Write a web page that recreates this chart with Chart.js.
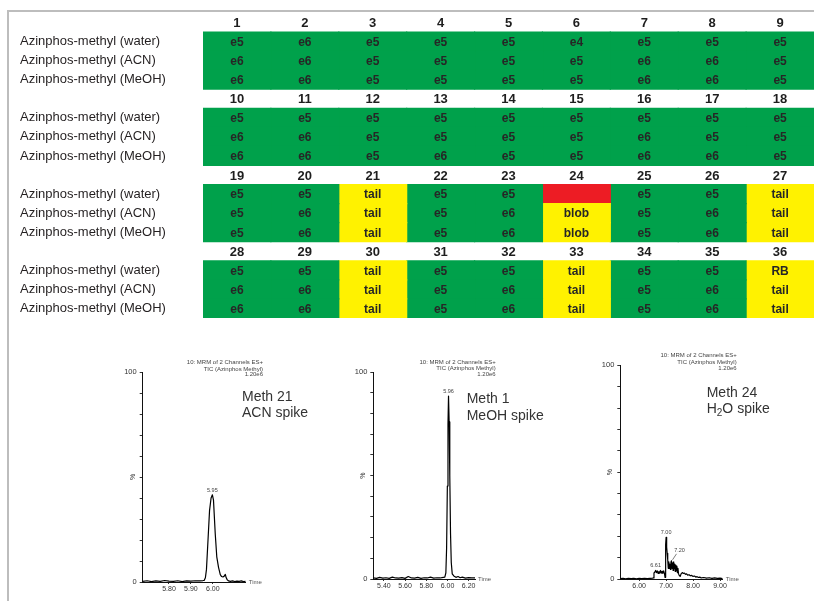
<!DOCTYPE html>
<html>
<head>
<meta charset="utf-8">
<script src="https://cdn.jsdelivr.net/npm/chart.js@4/dist/chart.umd.min.js"></script>
<style>
html,body{margin:0;padding:0;background:#fff;}
body{width:814px;height:601px;position:relative;overflow:hidden;font-family:'Liberation Sans',Arial,sans-serif;}
#frame{position:absolute;left:7px;top:10px;width:830px;height:620px;border-top:2px solid #bdbdbd;border-left:2px solid #bdbdbd;}
canvas{position:absolute;}
</style>
</head>
<body>
<div id="frame"></div>
<canvas id="grid" width="814" height="330" style="left:0px;top:0px"></canvas>
<canvas id="c1" width="235" height="261" style="left:95px;top:340px"></canvas>
<canvas id="c2" width="235" height="261" style="left:335px;top:340px"></canvas>
<canvas id="c3" width="239" height="261" style="left:575px;top:340px"></canvas>
<script>
// ---------------- DATA ----------------
const sampleIds = ['1','2','3','4','5','6','7','8','9',
  '10','11','12','13','14','15','16','17','18',
  '19','20','21','22','23','24','25','26','27',
  '28','29','30','31','32','33','34','35','36'];
const solventRows = ['Azinphos-methyl (water)','Azinphos-methyl (ACN)','Azinphos-methyl (MeOH)'];
const waterResults = ['e5','e6','e5','e5','e5','e4','e5','e5','e5',
  'e5','e5','e5','e5','e5','e5','e5','e5','e5',
  'e5','e5','tail','e5','e5','','e5','e5','tail',
  'e5','e5','tail','e5','e5','tail','e5','e5','RB'];
const acnResults = ['e6','e6','e5','e5','e5','e5','e6','e6','e5',
  'e6','e6','e5','e5','e5','e5','e6','e5','e5',
  'e5','e6','tail','e5','e6','blob','e5','e6','tail',
  'e6','e6','tail','e5','e6','tail','e5','e6','tail'];
const meohResults = ['e6','e6','e5','e5','e5','e5','e6','e6','e5',
  'e6','e6','e5','e6','e5','e5','e6','e6','e5',
  'e5','e6','tail','e5','e6','blob','e5','e6','tail',
  'e6','e6','tail','e5','e6','tail','e5','e6','tail'];

const headerLines = ['10: MRM of 2 Channels ES+','TIC (Azinphos Methyl)','1.20e6'];
const yTickValues = [0,10,20,30,40,50,60,70,80,90,100];
const yLabelValues = [0,100];

// Meth 21, ACN spike
const chrom1Notes = ['Meth 21','ACN spike'];
const chrom1XTicks = [5.80,5.90,6.00];
const chrom1Times = [5.68,5.70,5.72,5.74,5.76,5.78,5.80,5.82,5.84,5.86,5.88,5.90,5.92,5.94,
  5.955,5.961,5.966,5.971,5.978,5.985,5.992,5.998,6.003,6.011,6.018,6.026,6.034,6.040,6.046,
  6.052,6.057,6.061,6.066,6.072,6.080,6.090,6.100,6.110,6.120,6.130,6.140,6.150];
const chrom1Values = [0.3,0.6,0.2,0.5,0.3,0.7,0.4,0.3,0.6,0.2,0.5,0.4,0.6,0.5,
  0.7,0.8,2,6,20,34,40,41.5,39,23,12,7,3.5,2.6,2.4,
  2.8,3.6,2.0,1.0,0.5,0.3,0.5,0.2,0.4,0.3,0.5,0.2,0.3];
const chrom1Peaks = [{t:5.998, v:41.5, label:'5.95'}];

// Meth 1, MeOH spike
const chrom2Notes = ['Meth 1','MeOH spike'];
const chrom2XTicks = [5.40,5.60,5.80,6.00,6.20];
const chrom2Times = [5.30,5.33,5.36,5.39,5.42,5.45,5.48,5.51,5.54,5.57,
  5.60,5.63,5.66,5.69,5.72,5.75,5.78,5.81,5.84,5.87,
  5.90,5.93,5.96,5.975,5.985,5.992,5.999,6.005,6.010,6.016,
  6.022,6.029,6.036,6.045,6.06,6.08,6.10,6.12,6.14,6.17,6.20,6.23,6.26];
const chrom2Values = [0.5,0.3,0.8,0.4,0.6,0.3,0.9,0.5,0.4,0.7,
  0.3,1.2,0.5,0.4,0.8,0.3,0.6,0.5,0.9,0.4,
  0.6,0.5,0.8,0.9,3,15,45,75,88.5,76,
  50,22,8,2.5,1.5,0.8,1.2,0.6,0.9,0.4,0.7,0.5,0.5];
const chrom2Peaks = [{t:6.010, v:88.5, label:'5.96'}];

// Meth 24, H2O spike
const chrom3Notes = ['Meth 24','H\u2082O spike'];
const chrom3XTicks = [6.00,7.00,8.00,9.00];
const chrom3Times = [5.30,5.40,5.50,5.60,5.70,5.80,5.90,6.00,6.10,6.20,
  6.30,6.40,6.50,6.53,6.55,6.58,6.61,6.64,6.67,6.70,
  6.73,6.76,6.79,6.82,6.85,6.88,6.91,6.94,6.96,6.975,
  6.99,7.00,7.02,7.04,7.06,7.08,7.10,7.12,7.14,7.16,
  7.18,7.20,7.22,7.24,7.26,7.28,7.30,7.32,7.34,7.36,
  7.38,7.40,7.42,7.44,7.46,7.48,7.52,7.56,7.60,7.64,
  7.68,7.72,7.76,7.80,7.85,7.90,7.95,8.00,8.05,8.10,
  8.15,8.20,8.25,8.30,8.40,8.50,8.60,8.70,8.80,8.90,
  9.00,9.10];
const chrom3Values = [0.2,0.3,0.1,0.3,0.2,0.3,0.1,0.3,0.2,0.3,
  0.2,0.3,0.4,0.5,2.8,3.2,4.0,3.0,3.8,2.6,
  3.5,2.8,4.0,2.7,3.6,2.6,3.8,2.5,0.8,8,
  16,19.5,15,12,9,5,8,5,7,4.5,
  8,8.5,5,7.5,4,8,5,7,3.5,6.5,
  4,6,3,5,2.5,1.8,1.2,2.5,3.0,2.6,
  2.8,2.2,2.4,1.8,2.0,1.5,1.7,1.2,1.4,0.9,
  1.1,0.7,0.9,0.5,0.7,0.4,0.6,0.3,0.5,0.3,
  0.4,0.2];
const chrom3Peaks = [{t:6.61, v:4.0, label:'6.61'},{t:7.00, v:19.5, label:'7.00'},{t:7.20, v:8.5, label:'7.20'}];

// ---------------- STYLE ----------------
const FONT = "'Liberation Sans', Arial, Helvetica, sans-serif";
Chart.defaults.font.family = FONT;
const GREEN = '#00a14b', YELLOW = '#fff200', RED = '#ed1c24';
const peakLabelPointers = {'7.20': [8, -9]};

// ---------------- TABLE ----------------
const COLS = 9, BLOCKS = 4;
const resultsBySolvent = [waterResults, acnResults, meohResults];
const rowLabels = [];
for (let b = 0; b < BLOCKS; b++) { rowLabels.push(''); solventRows.forEach(s => rowLabels.push(s)); }
function cellResult(r, c) {
  const b = Math.floor(r / 4), k = r % 4;
  if (k === 0) return null;
  return resultsBySolvent[k - 1][b * COLS + c];
}
function cellColor(res) {
  if (res === '') return RED;
  if (/^e\d/.test(res)) return GREEN;
  return YELLOW;
}
const tableDatasets = [];
for (let c = 0; c < COLS; c++) {
  const data = [], colors = [];
  for (let r = 0; r < rowLabels.length; r++) {
    const res = cellResult(r, c);
    data.push(res === null ? null : 1);
    colors.push(res === null ? 'rgba(0,0,0,0)' : cellColor(res));
  }
  tableDatasets.push({data, backgroundColor: colors, borderWidth: 0, barPercentage: 1, categoryPercentage: 1, inflateAmount: 0.6});
}
const tableText = {
  id: 'tableText',
  afterDatasetsDraw(chart) {
    const ctx = chart.ctx, xs = chart.scales.x, ys = chart.scales.y;
    ctx.save();
    ctx.textAlign = 'center'; ctx.textBaseline = 'middle';
    ctx.fillStyle = '#1e1e1e';
    ctx.font = `bold 13px ${FONT}`;
    for (let b = 0; b < BLOCKS; b++) {
      const y = ys.getPixelForValue(b * 4);
      for (let c = 0; c < COLS; c++) ctx.fillText(sampleIds[b * COLS + c], xs.getPixelForValue(c + 0.5), y + 1);
    }
    ctx.fillStyle = '#262626';
    ctx.font = `bold 12px ${FONT}`;
    chart.data.datasets.forEach((ds, c) => {
      const meta = chart.getDatasetMeta(c);
      meta.data.forEach((el, r) => {
        const res = cellResult(r, c);
        if (!res) return;
        const p = el.getProps(['x', 'y', 'base'], true);
        ctx.fillText(res, (p.x + p.base) / 2, p.y + 1);
      });
    });
    ctx.restore();
  }
};
new Chart(document.getElementById('grid'), {
  type: 'bar',
  data: {labels: rowLabels, datasets: tableDatasets},
  options: {
    indexAxis: 'y', responsive: false, animation: false, devicePixelRatio: 1,
    layout: {padding: {left: 20, top: 13, right: 0, bottom: 12}},
    plugins: {legend: {display: false}, tooltip: {enabled: false}},
    scales: {
      x: {stacked: true, min: 0, max: COLS, display: false},
      y: {stacked: true,
          ticks: {font: {size: 13, family: FONT}, color: '#231f20', crossAlign: 'far', padding: 0, autoSkip: false},
          grid: {display: false}, border: {display: false},
          afterFit(s) { s.width = 183; }}
    }
  },
  plugins: [tableText]
});

// ---------------- CHROMATOGRAMS ----------------
function drawNote(ctx, text, x, y) {
  const i = text.indexOf('\u2082');
  if (i < 0) { ctx.fillText(text, x, y); return; }
  const a = text.slice(0, i), b = text.slice(i + 1);
  ctx.fillText(a, x, y);
  let w = ctx.measureText(a).width;
  const f = ctx.font;
  ctx.font = `10px ${FONT}`;
  ctx.fillText('2', x + w, y + 4);
  w += ctx.measureText('2').width;
  ctx.font = f;
  ctx.fillText(b, x + w, y);
}
function buildChrom(id, spec) {
  const cv = document.getElementById(id);
  const cl = parseFloat(cv.style.left), ct = parseFloat(cv.style.top);
  const W = cv.width, H = cv.height, A = spec.area, XH = 20;
  const textPlugin = {
    id: 'chromText',
    afterDraw(chart) {
      const ctx = chart.ctx, xs = chart.scales.x, ys = chart.scales.y, a = chart.chartArea;
      ctx.save();
      ctx.fillStyle = '#444'; ctx.font = `6px ${FONT}`; ctx.textAlign = 'right'; ctx.textBaseline = 'middle';
      headerLines.forEach((t, i) => ctx.fillText(t, spec.headerRight - cl, spec.headerYs[i] - ct));
      ctx.fillStyle = '#333'; ctx.font = `14px ${FONT}`; ctx.textAlign = 'left';
      spec.notes.forEach((t, i) => drawNote(ctx, t, spec.noteX - cl, spec.noteYs[i] - ct));
      ctx.save();
      ctx.translate(a.left - 10, ys.getPixelForValue(50));
      ctx.rotate(-Math.PI / 2);
      ctx.font = `7px ${FONT}`; ctx.fillStyle = '#333'; ctx.textAlign = 'center';
      ctx.fillText('%', 0, 0);
      ctx.restore();
      ctx.font = `6px ${FONT}`; ctx.fillStyle = '#555'; ctx.textAlign = 'left';
      ctx.fillText('Time', a.right + 3, a.bottom + 0.5);
      ctx.font = `5.5px ${FONT}`; ctx.fillStyle = '#444'; ctx.textAlign = 'center'; ctx.textBaseline = 'alphabetic';
      spec.peaks.forEach(p => {
        const px = xs.getPixelForValue(p.t), py = ys.getPixelForValue(p.v);
        const off = peakLabelPointers[p.label];
        if (off) {
          ctx.strokeStyle = '#444'; ctx.lineWidth = 0.7;
          ctx.beginPath(); ctx.moveTo(px + 1, py - 1); ctx.lineTo(px + off[0] - 3, py + off[1] + 2); ctx.stroke();
          ctx.fillText(p.label, px + off[0], py + off[1]);
        } else {
          ctx.fillText(p.label, px, py - 3);
        }
      });
      ctx.restore();
    }
  };
  return new Chart(cv, {
    type: 'line',
    data: {datasets: [{data: spec.times.map((t, i) => ({x: t, y: spec.values[i]})),
      borderColor: '#000', borderWidth: 1.2, pointRadius: 0, tension: 0, fill: false, borderJoinStyle: 'round'}]},
    options: {
      responsive: false, animation: false, devicePixelRatio: 1,
      layout: {padding: {left: 0, top: A.top - ct, right: cl + W - A.right, bottom: ct + H - A.bottom - XH}},
      plugins: {legend: {display: false}, tooltip: {enabled: false}},
      scales: {
        x: {type: 'linear', min: spec.xMin, max: spec.xMax,
            afterBuildTicks(s) { s.ticks = spec.xTicks.map(v => ({value: v})); },
            afterFit(s) { s.height = XH; },
            ticks: {callback: v => Number(v).toFixed(2), font: {size: 7, family: FONT}, color: '#333', padding: 1, maxRotation: 0, autoSkip: false},
            grid: {display: true, drawOnChartArea: false, drawTicks: true, tickLength: 2, color: '#333', lineWidth: 1},
            border: {display: true, color: '#111', width: 1}},
        y: {min: 0, max: 100,
            afterBuildTicks(s) { s.ticks = yTickValues.map(v => ({value: v})); },
            afterFit(s) { s.width = A.left - cl; },
            ticks: {callback: v => yLabelValues.includes(v) ? String(v) : '', font: {size: 7.5, family: FONT}, color: '#333', padding: 3, autoSkip: false},
            grid: {display: true, drawOnChartArea: false, drawTicks: true, tickLength: 3, color: '#333', lineWidth: 1},
            border: {display: true, color: '#111', width: 1}}
      }
    },
    plugins: [textPlugin]
  });
}

buildChrom('c1', {area: {left: 142.7, top: 372, right: 245.7, bottom: 582},
  xMin: 5.68, xMax: 6.15, xTicks: chrom1XTicks, times: chrom1Times, values: chrom1Values, peaks: chrom1Peaks,
  notes: chrom1Notes, noteX: 242, noteYs: [396.7, 412.7], headerRight: 263, headerYs: [362.7, 369, 374.7]});
buildChrom('c2', {area: {left: 373.3, top: 372.3, right: 475, bottom: 579},
  xMin: 5.30, xMax: 6.26, xTicks: chrom2XTicks, times: chrom2Times, values: chrom2Values, peaks: chrom2Peaks,
  notes: chrom2Notes, noteX: 466.7, noteYs: [399.3, 416], headerRight: 495.7, headerYs: [362.3, 368.3, 374]});
buildChrom('c3', {area: {left: 620.3, top: 365.3, right: 722.7, bottom: 579},
  xMin: 5.30, xMax: 9.10, xTicks: chrom3XTicks, times: chrom3Times, values: chrom3Values, peaks: chrom3Peaks,
  notes: chrom3Notes, noteX: 706.7, noteYs: [392.7, 409.3], headerRight: 736.7, headerYs: [355.7, 362, 368]});
</script>
</body>
</html>
